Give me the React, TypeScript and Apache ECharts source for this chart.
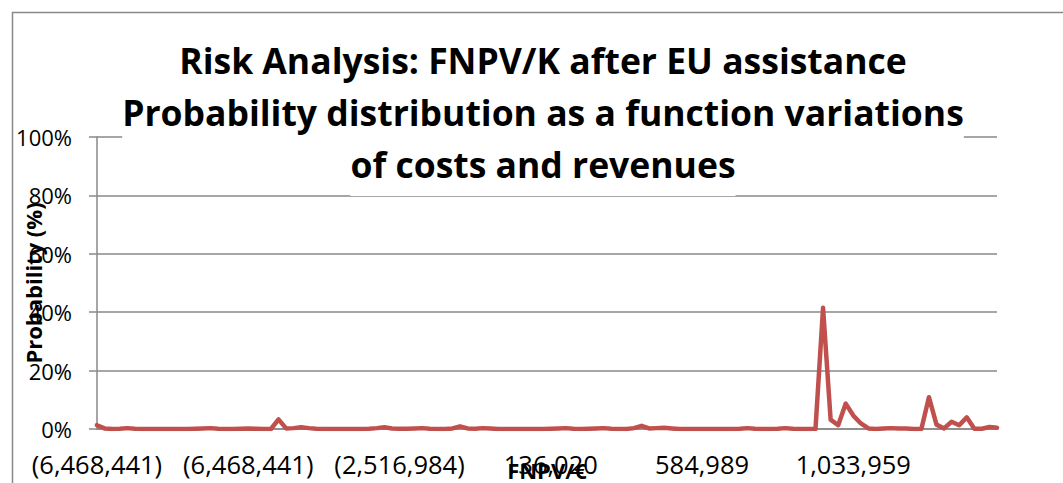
import React, { useEffect, useRef } from "react";
import * as echarts from "echarts";

const titleLines = [
  "Risk Analysis: FNPV/K after EU assistance",
  "Probability distribution as a function variations",
  "of costs and revenues",
];
const tickLabels = ["(6,468,441)", "(6,468,441)", "(2,516,984)", "136,020", "584,989", "1,033,959"];
const labelStep = 20;
const yAxisName = "Probability (%)";
const xAxisName = "FNPV/€";

// probability per FNPV class, in %
const probability = [
  1.3, 0.2, 0, 0.1, 0.3, 0.1, 0, 0, 0, 0,
  0, 0, 0, 0.1, 0.2, 0.3, 0.1, 0, 0, 0.1,
  0.2, 0.1, 0, 0, 3.3, 0.2, 0.3, 0.6, 0.3, 0.1,
  0, 0, 0, 0, 0, 0, 0.1, 0.3, 0.6, 0.2,
  0.1, 0.1, 0.2, 0.3, 0.1, 0, 0, 0.2, 0.9, 0.2,
  0.1, 0.3, 0.2, 0, 0, 0, 0, 0, 0, 0,
  0.1, 0.2, 0.3, 0.1, 0, 0.1, 0.2, 0.3, 0.1, 0,
  0, 0.3, 1.1, 0.2, 0.3, 0.4, 0.2, 0, 0, 0,
  0, 0, 0, 0, 0, 0.1, 0.3, 0.1, 0, 0,
  0.1, 0.3, 0.1, 0, 0, 0, 41.5, 3.2, 1.3, 8.7,
  4.6, 1.9, 0.2, 0, 0.2, 0.3, 0.2, 0.2, 0, 0,
  10.9, 1.5, 0.2, 2.5, 1.3, 4.0, 0.1, 0.1, 0.7, 0.4,
];

const categories = probability.map((_, i) =>
  i % labelStep === 0 ? tickLabels[i / labelStep] : ""
);

export default function App() {
  const ref = useRef<HTMLDivElement>(null);
  useEffect(() => {
    if (!ref.current) return;
    const chart = echarts.init(ref.current, null, { renderer: "svg" });
    const gray = "#888888";
    const titleFont = "bold 35.5px 'Open Sans'";
    chart.setOption({
      animation: false,
      backgroundColor: "#ffffff",
      grid: { left: 97, right: 66, top: 137, bottom: 54, containLabel: false, outerBoundsMode: "none" },
      graphic: [
        {
          type: "rect",
          z: -10,
          shape: { x: 12.5, y: 12.5, width: 1100, height: 520 },
          style: { fill: "none", stroke: gray, lineWidth: 1.5 },
        },
        ...titleLines.map((t, i) => ({
          type: "text",
          z: 100,
          x: 543,
          y: 42 + i * 52,
          style: {
            text: t,
            font: titleFont,
            fill: "#000",
            textAlign: "center",
            textVerticalAlign: "top",
            backgroundColor: "#fff",
            padding: [0, 0, 14, 0],
          },
        })),
      ],
      xAxis: {
        type: "category",
        data: categories,
        boundaryGap: false,
        name: xAxisName,
        nameLocation: "middle",
        nameGap: 30,
        nameMoveOverlap: false,
        nameTextStyle: { fontFamily: "Open Sans", fontWeight: "bold", fontSize: 22, color: "#000" },
        axisLine: { lineStyle: { color: gray, width: 1.5 } },
        axisTick: { show: false },
        axisLabel: {
          interval: labelStep - 1,
          margin: 22,
          fontFamily: "Open Sans",
          fontSize: 25.5,
          color: "#000",
        },
        splitLine: { show: false },
      },
      yAxis: {
        type: "value",
        min: 0,
        max: 100,
        interval: 20,
        name: yAxisName,
        nameLocation: "middle",
        nameGap: 53,
        nameMoveOverlap: false,
        nameTextStyle: { fontFamily: "Open Sans", fontWeight: "bold", fontSize: 22, color: "#000" },
        axisLine: { show: true, lineStyle: { color: gray, width: 1.5 } },
        axisTick: { show: true, length: 8, lineStyle: { color: gray, width: 1.5 } },
        axisLabel: {
          formatter: "{value}%",
          margin: 25,
          fontFamily: "Open Sans",
          fontSize: 22,
          color: "#000",
        },
        splitLine: { show: true, lineStyle: { color: gray, width: 1.5 } },
      },
      series: [
        {
          type: "line",
          data: probability,
          showSymbol: false,
          symbol: "none",
          lineStyle: { color: "#c0504d", width: 4.5, join: "round", cap: "round" },
          z: 5,
        },
      ],
    });
    return () => chart.dispose();
  }, []);
  return (
    <div
      ref={ref}
      style={{ position: "fixed", left: 0, top: 0, width: 1063, height: 483, background: "#fff" }}
    />
  );
}
